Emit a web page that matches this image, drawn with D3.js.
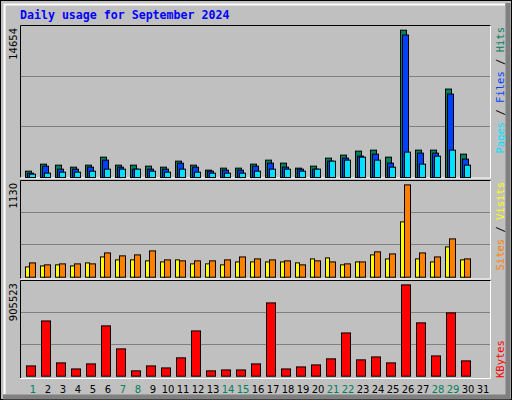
<!DOCTYPE html>
<html>
<head>
<meta charset="utf-8">
<script src="https://cdn.jsdelivr.net/npm/d3@7"></script>
<style>
  body { margin: 0; background: #fff; }
  text { font-family: "DejaVu Sans", sans-serif; }
</style>
</head>
<body>
<svg id="chart" width="512" height="400"></svg>
<script>
const days = d3.range(1, 32);
const weekend = [1, 7, 8, 14, 15, 21, 22, 28, 29];

const hits   = [631, 1328, 1228, 1029, 1228, 2025, 1228, 1228, 1129, 1029, 1627, 1228, 730, 930, 930, 1328, 1726, 1428, 930, 1129, 1926, 2224, 2623, 2722, 2025, 14654, 2722, 2722, 8798, 2324, 0];
const files  = [432, 1129, 830, 830, 1029, 1726, 1029, 830, 830, 830, 1428, 1029, 631, 730, 730, 1129, 1428, 1029, 830, 830, 1627, 1926, 2125, 2324, 1428, 14176, 2424, 2424, 8300, 1826, 0];
const pages  = [332, 432, 531, 531, 631, 830, 830, 830, 631, 531, 830, 531, 432, 432, 432, 631, 830, 830, 631, 830, 1627, 1726, 2025, 1726, 1029, 2523, 1328, 2125, 2722, 1228, 0];
const visits = [126, 138, 151, 138, 175, 248, 212, 212, 200, 187, 212, 163, 163, 151, 187, 187, 187, 187, 175, 224, 236, 151, 187, 273, 224, 677, 224, 187, 371, 212, 0];
const sites  = [175, 151, 163, 163, 163, 297, 261, 273, 322, 212, 200, 200, 200, 212, 248, 224, 212, 200, 151, 200, 187, 163, 187, 310, 285, 1130, 297, 248, 469, 224, 0];
const kbytes = [102000, 548000, 132000, 72000, 122000, 499000, 271000, 53000, 102000, 82000, 182000, 449000, 53000, 62000, 62000, 122000, 727000, 72000, 92000, 112000, 172000, 429000, 162000, 191000, 132000, 905523, 529000, 201000, 628000, 152000, 0];

const C = { hits: "#00805c", files: "#0040ff", pages: "#00e0ff", visits: "#ffff00", sites: "#ff8000", kbytes: "#ff0000" };

const svg = d3.select("#chart");

// frame
svg.append("rect").attr("x", 0.5).attr("y", 0.5).attr("width", 511).attr("height", 399).attr("fill", "#c0c0c0").attr("stroke", "#000");
svg.append("path").attr("d", "M505,4.5H4.5V394").attr("fill", "none").attr("stroke", "#fff").attr("stroke-width", 2);
svg.append("path").attr("d", "M508,3V397H3").attr("fill", "none").attr("stroke", "#808080").attr("stroke-width", 5);

svg.append("text").attr("x", 20).attr("y", 19).text("Daily usage for September 2024")
  .attr("fill", "#0000ff").style("font-family", "'DejaVu Sans Mono', monospace").style("font-weight", "bold").style("font-size", "11.6px");

const x = d3.scaleLinear().domain([1, 32]).range([25, 490]);

const panels = [
  { top: 25, bottom: 177, max: 14654, maxPx: 147.3 },
  { top: 180, bottom: 276.7, max: 1130, maxPx: 92.3 },
  { top: 280, bottom: 375.7, max: 905523, maxPx: 91.3 },
];

panels.forEach(p => {
  p.y = d3.scaleLinear().domain([0, p.max * (p.bottom - p.top) / p.maxPx]).range([p.bottom, p.top]);
  const g = svg.append("g");
  const yTop = p.top, yBot = p === panels[0] ? 178 : (p === panels[1] ? 279 : 378.5);
  g.selectAll("line.grid").data([1 / 3, 2 / 3]).join("line")
    .attr("x1", 21).attr("x2", 490)
    .attr("y1", f => Math.round(p.y(p.y.domain()[1] * f)) + 0.5)
    .attr("y2", f => Math.round(p.y(p.y.domain()[1] * f)) + 0.5)
    .attr("stroke", "#808080");
  g.append("path").attr("d", `M20.5,${yBot}V${yTop + 0.5}H491`).attr("fill", "none").attr("stroke", "#000");
  g.append("path").attr("d", `M490.5,${yTop + 0.5}V${yBot}H20`).attr("fill", "none").attr("stroke", "#fff");
  svg.append("text").attr("transform", `translate(17,${p.top + 3}) rotate(-90)`)
    .attr("text-anchor", "end").style("font-size", "10px").attr("fill", "#000").text(p.max);
});

function bars(panel, values, color, dx, w) {
  svg.append("g").selectAll("rect").data(days.filter((d, i) => values[i] > 0)).join("rect")
    .attr("x", d => x(d) + dx + 0.5)
    .attr("y", d => panel.y(values[d - 1]) + 0.5)
    .attr("width", w)
    .attr("height", d => panel.bottom - panel.y(values[d - 1]))
    .attr("fill", color).attr("stroke", "#000");
}

bars(panels[0], hits, C.hits, 0, 6);
bars(panels[0], files, C.files, 2, 6);
bars(panels[0], pages, C.pages, 4, 6);
bars(panels[1], visits, C.visits, 0, 4);
bars(panels[1], sites, C.sites, 4, 6);
bars(panels[2], kbytes, C.kbytes, 1, 9);

// right legends
function legend(parts, yStart, anchor) {
  const t = svg.append("text").attr("transform", `translate(504,${yStart}) rotate(-90)`)
    .attr("text-anchor", anchor).style("font-family", "'DejaVu Sans Mono', monospace").style("font-size", "10.5px");
  parts.forEach(([s, c]) => t.append("tspan").attr("fill", c).text(s));
}
legend([["Pages", C.pages], [" / ", "#000"], ["Files", C.files], [" / ", "#000"], ["Hits", C.hits]], 27, "end");
legend([["Sites", C.sites], [" / ", "#000"], ["Visits", C.visits]], 182, "end");
legend([["KBytes", C.kbytes]], 378, "start");

svg.append("g").selectAll("text").data(days).join("text")
  .attr("x", d => x(d) + 8).attr("y", 393).attr("text-anchor", "middle")
  .style("font-size", "10px")
  .attr("fill", d => weekend.includes(d) ? C.hits : "#000")
  .text(d => d);
</script>
</body>
</html>
